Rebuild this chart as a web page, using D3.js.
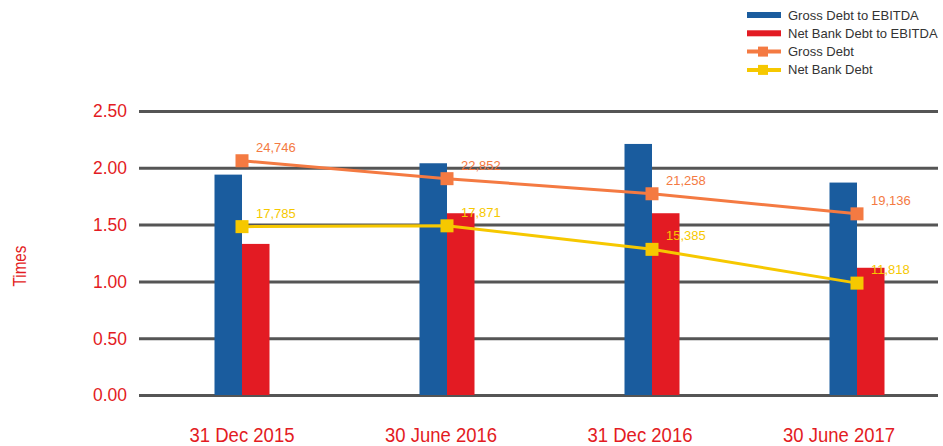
<!DOCTYPE html>
<html>
<head>
<meta charset="utf-8">
<script src="https://cdn.jsdelivr.net/npm/d3@7"></script>
<style>
  body { margin: 0; background: #fff; }
  svg { font-family: "Liberation Sans", Arial, sans-serif; }
</style>
</head>
<body>
<div id="chart"></div>
<script>
const periods = ['31 Dec 2015', '30 June 2016', '31 Dec 2016', '30 June 2017'];
const grossDebtToEbitda = [1.94, 2.04, 2.21, 1.87];
const netBankDebtToEbitda = [1.33, 1.60, 1.60, 1.12];
const grossDebt = [24746, 22852, 21258, 19136];
const netBankDebt = [17785, 17871, 15385, 11818];
const yTicks = [0, 0.5, 1, 1.5, 2, 2.5];

const colors = {
  blue: '#1a5c9e',
  red: '#e31b23',
  orange: '#f47a42',
  yellow: '#f6c800',
  grid: '#555555',
  axisText: '#e31b23'
};

const width = 943, height = 446;
const svg = d3.select('#chart').append('svg')
  .attr('width', width)
  .attr('height', height);

// title is almost fully clipped off the top of the frame in the original
svg.append('text')
  .attr('x', 16)
  .attr('y', -3)
  .attr('fill', colors.red)
  .attr('font-size', '17px')
  .attr('font-weight', 'bold')
  .text('Leverage Summary by Period');

const xScale = d3.scaleBand()
  .domain(periods)
  .range([139.5, 959.5])
  .padding(0);

// the category labels sit on a slightly tighter spacing than the bars
const xLabelScale = d3.scaleBand()
  .domain(periods)
  .range([142.5, 938.5])
  .padding(0);

const yScale = d3.scaleLinear()
  .domain([0, 2.5])
  .range([395, 111]);

// hidden secondary scale for the debt amounts
const y2Scale = d3.scaleLinear()
  .domain([0, 30000])
  .range([395, 111]);

// gridlines
svg.append('g')
  .selectAll('line')
  .data(yTicks)
  .enter()
  .append('line')
  .attr('x1', 139)
  .attr('x2', 938)
  .attr('y1', d => yScale(d) + 0.5)
  .attr('y2', d => yScale(d) + 0.5)
  .attr('stroke', colors.grid)
  .attr('stroke-width', 3);

// y tick labels
svg.append('g')
  .selectAll('text')
  .data(yTicks)
  .enter()
  .append('text')
  .attr('x', 127)
  .attr('y', d => yScale(d))
  .attr('dy', '0.36em')
  .attr('text-anchor', 'end')
  .attr('font-size', '18px')
  .attr('textLength', 34)
  .attr('lengthAdjust', 'spacingAndGlyphs')
  .attr('fill', colors.axisText)
  .text(d => d3.format('.2f')(d));

svg.append('text')
  .attr('transform', 'translate(26,266) rotate(-90)')
  .attr('text-anchor', 'middle')
  .attr('font-size', '18px')
  .attr('textLength', 41)
  .attr('lengthAdjust', 'spacingAndGlyphs')
  .attr('fill', colors.axisText)
  .text('Times');

// x labels
svg.append('g')
  .selectAll('text')
  .data(periods)
  .enter()
  .append('text')
  .attr('x', d => xLabelScale(d) + xLabelScale.bandwidth() / 2)
  .attr('y', 442)
  .attr('text-anchor', 'middle')
  .attr('font-size', '20px')
  .attr('textLength', d => d.length === 11 ? 105 : 112)
  .attr('lengthAdjust', 'spacingAndGlyphs')
  .attr('fill', colors.axisText)
  .text(d => d);

// bars
const barW = 27.5;
const bars = svg.append('g');
bars.selectAll('.gross-bar')
  .data(periods)
  .enter()
  .append('rect')
  .attr('class', 'gross-bar')
  .attr('x', d => xScale(d) + xScale.bandwidth() / 2 - barW)
  .attr('y', (d, i) => yScale(grossDebtToEbitda[i]))
  .attr('width', barW)
  .attr('height', (d, i) => yScale(0) - yScale(grossDebtToEbitda[i]))
  .attr('fill', colors.blue);

bars.selectAll('.net-bar')
  .data(periods)
  .enter()
  .append('rect')
  .attr('class', 'net-bar')
  .attr('x', d => xScale(d) + xScale.bandwidth() / 2)
  .attr('y', (d, i) => yScale(netBankDebtToEbitda[i]))
  .attr('width', barW)
  .attr('height', (d, i) => yScale(0) - yScale(netBankDebtToEbitda[i]))
  .attr('fill', colors.red);

// lines with square markers and value labels
function drawSeries(values, color) {
  const pts = periods.map((p, i) => [xScale(p) + xScale.bandwidth() / 2, y2Scale(values[i])]);
  svg.append('path')
    .datum(pts)
    .attr('d', d3.line())
    .attr('fill', 'none')
    .attr('stroke', color)
    .attr('stroke-width', 3);
  svg.append('g')
    .selectAll('rect')
    .data(pts)
    .enter()
    .append('rect')
    .attr('x', d => d[0] - 6.5)
    .attr('y', d => d[1] - 6.5)
    .attr('width', 13)
    .attr('height', 13)
    .attr('fill', color);
  svg.append('g')
    .selectAll('text')
    .data(pts)
    .enter()
    .append('text')
    .attr('x', d => d[0] + 14)
    .attr('y', d => d[1] - 9)
    .attr('font-size', '13px')
    .attr('fill', color)
    .text((d, i) => d3.format(',')(values[i]));
}
drawSeries(grossDebt, colors.orange);
drawSeries(netBankDebt, colors.yellow);

// legend
const legendItems = [
  { name: 'Gross Debt to EBITDA', color: colors.blue, type: 'bar' },
  { name: 'Net Bank Debt to EBITDA', color: colors.red, type: 'bar' },
  { name: 'Gross Debt', color: colors.orange, type: 'line' },
  { name: 'Net Bank Debt', color: colors.yellow, type: 'line' }
];
const legend = svg.append('g');
legendItems.forEach((item, i) => {
  const y = 15 + i * 18.3;
  if (item.type === 'bar') {
    legend.append('rect')
      .attr('x', 747).attr('y', y - 3)
      .attr('width', 34).attr('height', 6)
      .attr('fill', item.color);
  } else {
    legend.append('line')
      .attr('x1', 747).attr('x2', 781)
      .attr('y1', y).attr('y2', y)
      .attr('stroke', item.color)
      .attr('stroke-width', 4);
    legend.append('rect')
      .attr('x', 758).attr('y', y - 5)
      .attr('width', 10).attr('height', 10)
      .attr('fill', item.color);
  }
  legend.append('text')
    .attr('x', 788)
    .attr('y', y)
    .attr('dy', '0.35em')
    .attr('font-size', '13px')
    .attr('fill', '#333')
    .text(item.name);
});
</script>
</body>
</html>
